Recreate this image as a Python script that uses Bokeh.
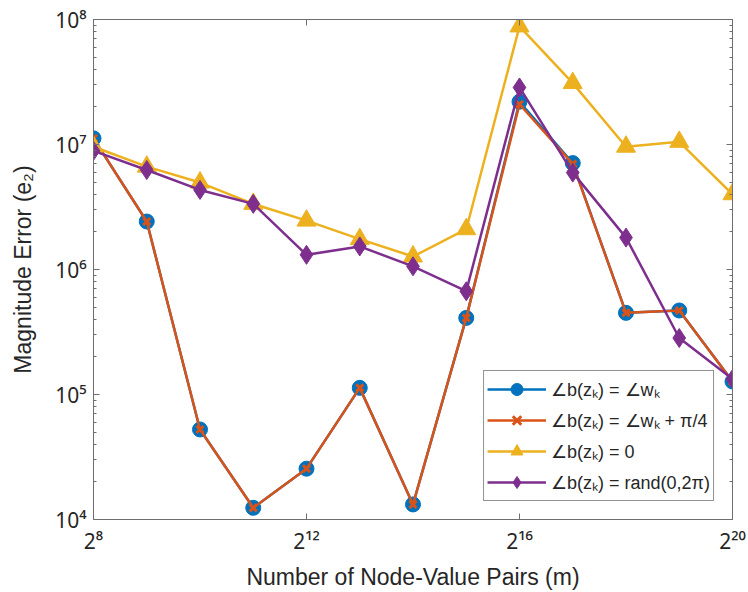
from bokeh.plotting import figure
from bokeh.models import (Range1d, FixedTicker, LogAxis, Legend, LegendItem)
from bokeh.embed import file_html
from bokeh.resources import INLINE

# ---- data ----
exponents = [8, 9, 10, 11, 12, 13, 14, 15, 16, 17, 18, 19, 20]
m_values = [2 ** e for e in exponents]

err_angle_w = [1.12e7, 2.42e6, 5.25e4, 1.24e4, 2.55e4, 1.13e5, 1.32e4,
               4.1e5, 2.2e7, 7.1e6, 4.5e5, 4.7e5, 1.27e5]
err_angle_w_pi4 = [1.12e7, 2.42e6, 5.25e4, 1.24e4, 2.55e4, 1.13e5, 1.32e4,
                   4.1e5, 2.1e7, 7.0e6, 4.5e5, 4.7e5, 1.27e5]
err_zero = [9.6e6, 6.65e6, 4.96e6, 3.35e6, 2.46e6, 1.75e6, 1.27e6,
            2.1e6, 8.8e7, 3.1e7, 9.6e6, 1.05e7, 4.0e6]
err_rand = [8.9e6, 6.25e6, 4.33e6, 3.35e6, 1.31e6, 1.53e6, 1.06e6,
            6.7e5, 2.86e7, 5.96e6, 1.8e6, 2.83e5, 1.33e5]

series_labels = ["∠b(zₖ) = ∠wₖ", "∠b(zₖ) = ∠wₖ + π/4",
                 "∠b(zₖ) = 0", "∠b(zₖ) = rand(0,2π)"]

x_tick_exps = [8, 12, 16, 20]
x_tick_labels = ["2⁸", "2¹²", "2¹⁶", "2²⁰"]
y_tick_exps = [4, 5, 6, 7, 8]
y_tick_labels = ["10⁴", "10⁵", "10⁶", "10⁷", "10⁸"]

x_label = "Number of Node-Value Pairs (m)"
y_label = "Magnitude Error (e₂)"

# ---- styling ----
FONT = "Liberation Sans"
TICK_FONT = "Noto Sans"
BLUE, RED, YEL, PUR = "#0072BD", "#D95319", "#EDB120", "#7E2F8E"
AX = "#6e6e6e"
TXT = "#262626"

x_ticks = [2 ** e for e in x_tick_exps]
y_ticks = [10.0 ** e for e in y_tick_exps]
y_minor = [k * 10.0 ** e for e in y_tick_exps[:-1] for k in range(2, 10)]

p = figure(width=748, height=592, x_axis_type="log", y_axis_type="log",
           x_range=Range1d(x_ticks[0], x_ticks[-1]),
           y_range=Range1d(y_ticks[0], y_ticks[-1]),
           output_backend="svg", toolbar_location=None,
           min_border_left=93, min_border_right=16,
           min_border_top=19, min_border_bottom=72)
p.grid.visible = False
p.outline_line_color = AX
p.background_fill_color = "white"


def style_axis(ax, ticks, minor, labels):
    ax.ticker = FixedTicker(ticks=ticks, minor_ticks=minor)
    ax.axis_line_color = AX
    ax.axis_line_width = 1
    ax.major_tick_line_color = AX
    ax.minor_tick_line_color = AX
    ax.major_tick_in = 6
    ax.major_tick_out = 0
    ax.minor_tick_in = 3
    ax.minor_tick_out = 0
    ax.axis_label_text_font = FONT
    ax.axis_label_text_color = TXT
    ax.axis_label_text_font_style = "normal"
    ax.axis_label_text_font_size = "23px"
    if labels is None:
        ax.major_label_overrides = {t: " " for t in ticks}
        ax.major_label_text_font_size = "1px"
        ax.major_label_text_alpha = 0
        ax.major_label_standoff = 0
    else:
        ax.major_label_overrides = {t: l for t, l in zip(ticks, labels)}
        ax.major_label_text_font = TICK_FONT
        ax.major_label_text_font_size = "21px"
        ax.major_label_text_color = TXT


xa = p.xaxis[0]
style_axis(xa, x_ticks, [], x_tick_labels)
xa.axis_label = x_label
xa.major_label_standoff = 7
xa.axis_label_standoff = 6

ya = p.yaxis[0]
style_axis(ya, y_ticks, y_minor, y_tick_labels)
ya.axis_label = y_label
ya.major_label_standoff = 7
ya.axis_label_standoff = 16

top = LogAxis()
style_axis(top, x_ticks, [], None)
p.add_layout(top, "above")
right = LogAxis()
style_axis(right, y_ticks, y_minor, None)
p.add_layout(right, "right")

# ---- series ----
l1 = p.line(m_values, err_angle_w, line_color=BLUE, line_width=2.5)
s1 = p.scatter(m_values, err_angle_w, marker="circle", size=15,
               fill_color=BLUE, line_color=BLUE)
l2 = p.line(m_values, err_angle_w_pi4, line_color=RED, line_width=2.5)
s2 = p.scatter(m_values, err_angle_w_pi4, marker="x", size=10,
               line_color=RED, line_width=3)
l3 = p.line(m_values, err_zero, line_color=YEL, line_width=2.5)
s3 = p.scatter(m_values, err_zero, marker="triangle", size=19,
               fill_color=YEL, line_color=YEL)
l4 = p.line(m_values, err_rand, line_color=PUR, line_width=2.5)
s4 = p.scatter(m_values, err_rand, marker="diamond", size=19,
               fill_color=PUR, line_color=PUR)

items = [LegendItem(label=lab, renderers=rs) for lab, rs in
         zip(series_labels, [[l1, s1], [l2, s2], [l3, s3], [l4, s4]])]

legend = Legend(items=items, location="bottom_right", margin=18,
                padding=3, spacing=1, glyph_width=59, glyph_height=30,
                label_height=30, label_standoff=5,
                label_text_font=FONT, label_text_font_size="18px",
                label_text_color=TXT, border_line_color=TXT,
                border_line_width=1, background_fill_color="white",
                background_fill_alpha=1)
p.add_layout(legend, "center")

open("out.html", "w").write(file_html(p, INLINE))
